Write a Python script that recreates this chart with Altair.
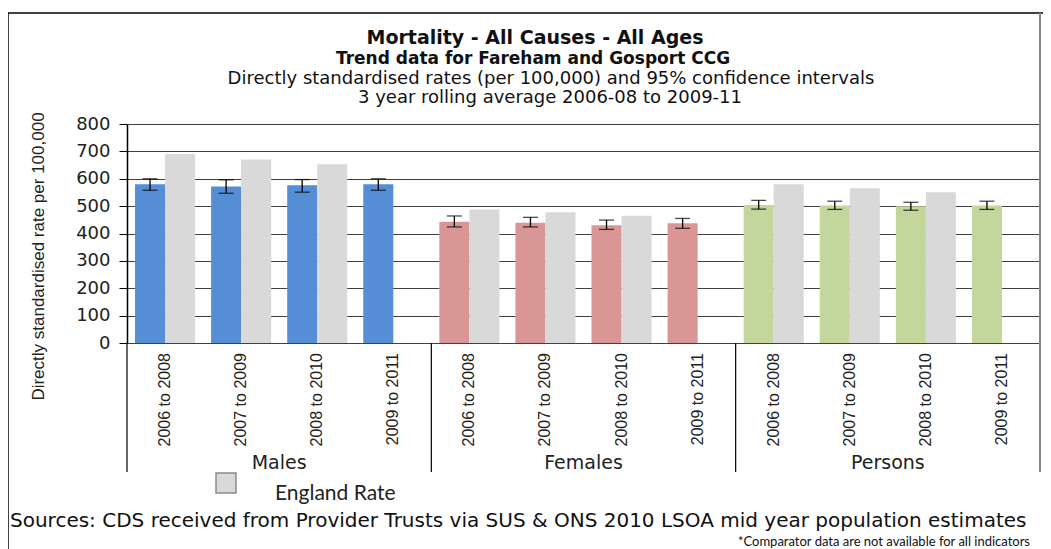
import altair as alt
import pandas as pd

# ---------------- data ----------------
groups = ["Males", "Females", "Persons"]
periods = ["2006 to 2008", "2007 to 2009", "2008 to 2010", "2009 to 2011"]

local_rate = {
    "Males":   [580, 572, 576, 580],
    "Females": [443, 439, 430, 437],
    "Persons": [504, 502, 500, 502],
}
local_lo = {
    "Males":   [558, 547, 551, 558],
    "Females": [424, 424, 415, 419],
    "Persons": [489, 488, 485, 488],
}
local_hi = {
    "Males":   [600, 596, 597, 600],
    "Females": [464, 459, 449, 455],
    "Persons": [521, 518, 514, 518],
}
england_rate = {
    "Males":   [690, 670, 653],
    "Females": [488, 478, 465],
    "Persons": [580, 565, 551],
}
y_ticks = [0, 100, 200, 300, 400, 500, 600, 700, 800]

group_colors = {"Males": "#558ED5", "Females": "#D99694", "Persons": "#C3D69B"}
england_color = "#D9D9D9"

title_lines = [
    ("Mortality - All Causes - All Ages", 19, "bold"),
    ("Trend data for Fareham and Gosport CCG", 17, "bold"),
    ("Directly standardised rates (per 100,000) and 95% confidence intervals", 18, "normal"),
    ("3 year rolling average 2006-08 to 2009-11", 18, "normal"),
]
y_title = "Directly standardised rate per 100,000"
sources_text = "Sources: CDS received from Provider Trusts via SUS & ONS 2010 LSOA mid year population  estimates"
comparator_text = "*Comparator data are not available for all indicators"

# ---------------- tables ----------------
keys = [f"{g}|{p}" for g in groups for p in periods]

bar_rows, err_rows = [], []
for g in groups:
    for i, p in enumerate(periods):
        k = f"{g}|{p}"
        bar_rows.append({"key": k, "period": p, "series": "Local",
                         "cat": g, "value": local_rate[g][i]})
        err_rows.append({"key": k, "period": p, "series": "Local",
                         "lo": local_lo[g][i], "hi": local_hi[g][i]})
        if i < len(england_rate[g]):
            bar_rows.append({"key": k, "period": p, "series": "England",
                             "cat": "England Rate", "value": england_rate[g][i]})
bars_df = pd.DataFrame(bar_rows)
err_df = pd.DataFrame(err_rows)
lab_df = pd.DataFrame({"key": keys, "period": [k.split("|")[1] for k in keys]})
grp_mid_df = pd.DataFrame({"key": [f"{g}|{periods[1]}" for g in groups], "grp": groups})
grp_start_df = pd.DataFrame({"key": [f"{g}|{periods[0]}" for g in groups]})
grp_end_df = pd.DataFrame({"key": [f"{groups[-1]}|{periods[-1]}"]})

W, H = 913, 219

xscale = alt.Scale(domain=keys, paddingInner=0, paddingOuter=0)
xoff = alt.XOffset("series:N", scale=alt.Scale(domain=["Local", "England"],
                                                paddingInner=0, paddingOuter=0.267))
yscale = alt.Scale(domain=[0, 800], nice=False)

y_axis = alt.Axis(values=y_ticks, tickSize=8, tickColor="black",
                  domainColor="black", domainWidth=1.5, labelOverlap=False,
                  gridColor="#404040", gridWidth=1,
                  labelFont="DejaVu Sans", labelFontSize=18, labelColor="#222222",
                  labelPadding=9,
                  title=y_title, titleFont="Liberation Sans", titleFontSize=17,
                  titleFontWeight="normal", titleColor="#222222",
                  titleX=-89, titleY=132, titleAngle=270, titleAlign="center",
                  titleBaseline="middle")

color_domain = ["England Rate"] + groups
color_range = [england_color] + [group_colors[g] for g in groups]

bars = alt.Chart(bars_df).mark_bar().encode(
    x=alt.X("key:N", scale=xscale, sort=keys,
            axis=alt.Axis(labels=False, title=None, tickBand="extent", tickSize=102,
                          tickColor="black", tickWidth=1, domainColor="black",
                          domainWidth=1.5)),
    xOffset=xoff,
    y=alt.Y("value:Q", scale=yscale, axis=y_axis),
    color=alt.Color("cat:N", scale=alt.Scale(domain=color_domain, range=color_range),
                    legend=alt.Legend(values=["England Rate"], orient="none",
                                      legendX=88, legendY=348, title=None,
                                      symbolType="square", symbolSize=400,
                                      symbolStrokeColor="#8C8C8C", symbolStrokeWidth=1.5,
                                      labelFont="Lato", labelFontSize=21,
                                      labelBaseline="top",
                                      labelColor="#222222", labelOffset=38, padding=0)),
)

err_rule = alt.Chart(err_df).mark_rule(color="black", strokeWidth=1.3).encode(
    x=alt.X("key:N", scale=xscale, sort=keys, axis=None),
    xOffset=xoff,
    y=alt.Y("lo:Q", scale=yscale, axis=y_axis),
    y2="hi:Q",
)
cap_lo = alt.Chart(err_df).mark_tick(color="black", size=15, thickness=1.3).encode(
    x=alt.X("key:N", scale=xscale, sort=keys, axis=None),
    xOffset=xoff,
    y=alt.Y("lo:Q", scale=yscale, axis=y_axis),
)
cap_hi = alt.Chart(err_df).mark_tick(color="black", size=15, thickness=1.3).encode(
    x=alt.X("key:N", scale=xscale, sort=keys, axis=None),
    xOffset=xoff,
    y=alt.Y("hi:Q", scale=yscale, axis=y_axis),
)

period_labels = alt.Chart(lab_df).mark_text(
    angle=270, align="right", baseline="middle", font="Liberation Sans",
    fontSize=16, color="#222222").encode(
    x=alt.X("key:N", scale=xscale, sort=keys, axis=None),
    y=alt.value(229),
    text="period:N",
)

group_labels = alt.Chart(grp_mid_df).mark_text(
    align="center", baseline="middle", font="DejaVu Sans", fontSize=19,
    color="#222222").encode(
    x=alt.X("key:N", scale=xscale, sort=keys, axis=None, bandPosition=1),
    y=alt.value(339),
    text="grp:N",
)

group_sep = alt.Chart(grp_start_df).mark_rule(color="black", strokeWidth=1.2).encode(
    x=alt.X("key:N", scale=xscale, sort=keys, axis=None, bandPosition=0),
    y=alt.value(H),
    y2=alt.value(348),
)
group_sep_end = alt.Chart(grp_end_df).mark_rule(color="black", strokeWidth=1.2).encode(
    x=alt.X("key:N", scale=xscale, sort=keys, axis=None, bandPosition=1),
    y=alt.value(H),
    y2=alt.value(348),
)

# titles
title_x = [408, 406, 424, 423]
title_y = [-86, -65, -45, -26]
title_layers = []
for (txt, size, weight), tx, ty in zip(title_lines, title_x, title_y):
    title_layers.append(
        alt.Chart(pd.DataFrame({"t": [txt]})).mark_text(
            align="center", baseline="middle", font="DejaVu Sans", fontSize=size,
            fontWeight=weight, color="#111111").encode(
            text="t:N", x=alt.value(tx), y=alt.value(ty))
    )

sources = alt.Chart(pd.DataFrame({"t": [sources_text]})).mark_text(
    align="left", baseline="middle", font="DejaVu Sans", fontSize=20,
    color="#111111").encode(text="t:N", x=alt.value(-117), y=alt.value(397))
comparator = alt.Chart(pd.DataFrame({"t": [comparator_text]})).mark_text(
    align="right", baseline="middle", font="Lato", fontSize=13,
    color="#111111").encode(text="t:N", x=alt.value(903), y=alt.value(418))

# frame
frame_left = alt.Chart(pd.DataFrame({"a": [0]})).mark_rule(color="black", strokeWidth=1.5).encode(
    x=alt.value(-119), y=alt.value(-111), y2=alt.value(460))
frame_top = alt.Chart(pd.DataFrame({"a": [0]})).mark_rule(color="black", strokeWidth=1.5).encode(
    x=alt.value(-119), x2=alt.value(920), y=alt.value(-111))
frame_right = alt.Chart(pd.DataFrame({"a": [0]})).mark_rule(color="#888888", strokeWidth=2).encode(
    x=alt.value(W), y=alt.value(-111), y2=alt.value(348))

chart = alt.layer(
    bars, err_rule, cap_lo, cap_hi, period_labels, group_labels, group_sep,
    group_sep_end, *title_layers, sources, comparator, frame_left, frame_top, frame_right
).properties(
    width=W, height=H,
    autosize=alt.AutoSizeParams(type="none"),
    padding={"left": 119, "top": 116, "right": 3, "bottom": 206},
).configure_view(stroke=None)

chart.save("out.html", embed_options={"renderer": "svg", "actions": False})
